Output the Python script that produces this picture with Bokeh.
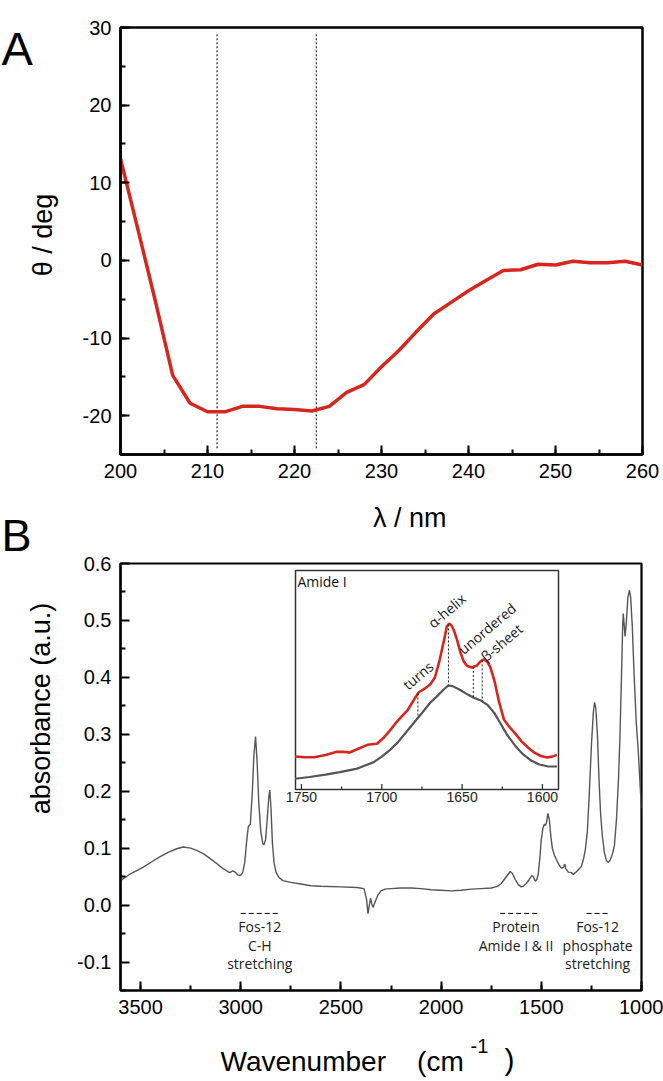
import numpy as np
from bokeh.plotting import figure
from bokeh.layouts import column, row
from bokeh.models import Range1d, SingleIntervalTicker, FixedTicker, PrintfTickFormatter
from bokeh.core.properties import value
from bokeh.embed import file_html
from bokeh.resources import INLINE

# ---------------- data: panel A (CD spectrum) ----------------
cd_wavelength = [200, 202, 204, 206, 208, 210, 212, 214, 216, 218, 220, 222, 224, 226, 228, 230,
                 232, 234, 236, 238, 240, 242, 244, 246, 248, 250, 252, 254, 256, 258, 260]
cd_theta = [13.1, 4.0, -5.2, -14.8, -18.4, -19.5, -19.5, -18.8, -18.8, -19.1, -19.2, -19.4, -18.8,
            -17.0, -16.0, -13.7, -11.6, -9.2, -6.9, -5.4, -3.9, -2.6, -1.3, -1.2, -0.5, -0.6,
            -0.1, -0.3, -0.3, -0.1, -0.6]
cd_marks = [211.1, 222.5]

# ---------------- data: panel B (FTIR spectrum) ----------------
ir_wavenumber = [3600, 3550, 3484, 3440, 3402, 3360, 3319, 3287, 3250, 3220, 3185, 3154, 3120, 3088,
                 3065, 3054, 3040, 3028, 3015, 3002, 2990, 2980, 2970, 2962, 2952, 2942, 2935, 2926,
                 2918, 2910, 2900, 2890, 2884, 2876, 2868, 2860, 2855, 2849, 2842, 2834, 2824, 2810,
                 2790, 2750, 2700, 2650, 2600, 2500, 2420, 2385, 2372, 2365, 2358, 2352, 2346, 2340,
                 2330, 2315, 2300, 2280, 2250, 2200, 2150, 2100, 2050, 2000, 1950, 1900, 1850, 1800,
                 1750, 1720, 1700, 1685, 1670, 1655, 1645, 1630, 1615, 1600, 1590, 1575, 1560, 1548,
                 1540, 1530, 1522, 1515, 1508, 1500, 1492, 1485, 1480, 1474, 1467, 1460, 1452, 1445,
                 1435, 1425, 1410, 1400, 1390, 1383, 1378, 1365, 1350, 1340, 1330, 1315, 1300, 1290,
                 1280, 1270, 1260, 1250, 1240, 1234, 1228, 1220, 1212, 1204, 1195, 1185, 1175, 1165,
                 1155, 1145, 1135, 1125, 1115, 1108, 1100, 1094, 1091, 1086, 1082, 1076, 1068, 1060,
                 1054, 1046, 1037, 1026, 1016, 1006, 1000]
ir_absorbance = [0.043, 0.055, 0.067, 0.077, 0.085, 0.093, 0.099, 0.102, 0.100, 0.096, 0.090, 0.082,
                 0.073, 0.064, 0.059, 0.057, 0.060, 0.058, 0.053, 0.052, 0.057, 0.075, 0.114, 0.138,
                 0.142, 0.200, 0.260, 0.296, 0.250, 0.180, 0.130, 0.108, 0.106, 0.115, 0.150, 0.190,
                 0.202, 0.170, 0.110, 0.075, 0.058, 0.049, 0.043, 0.040, 0.037, 0.034, 0.033, 0.032,
                 0.031, 0.029, 0.010, -0.015, 0.000, 0.012, 0.002, -0.004, 0.005, 0.018, 0.025, 0.028,
                 0.029, 0.030, 0.030, 0.029, 0.027, 0.026, 0.025, 0.026, 0.028, 0.029, 0.030, 0.033,
                 0.038, 0.045, 0.052, 0.059, 0.056, 0.045, 0.036, 0.032, 0.033, 0.038, 0.045, 0.052,
                 0.050, 0.042, 0.045, 0.055, 0.080, 0.115, 0.135, 0.142, 0.140, 0.145, 0.161, 0.150,
                 0.120, 0.100, 0.088, 0.080, 0.070, 0.065, 0.066, 0.072, 0.064, 0.058, 0.057, 0.054,
                 0.057, 0.062, 0.068, 0.080, 0.098, 0.130, 0.200, 0.280, 0.340, 0.356, 0.345, 0.300,
                 0.220, 0.160, 0.120, 0.092, 0.078, 0.075, 0.080, 0.090, 0.105, 0.150, 0.220, 0.290,
                 0.400, 0.490, 0.512, 0.490, 0.472, 0.495, 0.540, 0.553, 0.540, 0.490, 0.406, 0.320,
                 0.270, 0.205, 0.170]
ir_yticks = [-0.1, 0.0, 0.1, 0.2, 0.3, 0.4, 0.5, 0.6]
ir_yminor = [-0.15, -0.05, 0.05, 0.15, 0.25, 0.35, 0.45, 0.55]

# inset (Amide I region), normalised inset units
inset_red_wn = [1754, 1748, 1742, 1735, 1728, 1724, 1720, 1715, 1709, 1703, 1699, 1695, 1690, 1684,
                1680, 1677, 1673, 1670, 1667, 1664, 1661, 1659.5, 1658, 1656.5, 1655, 1653, 1651,
                1649, 1647, 1644, 1641, 1638.5, 1636.5, 1634.5, 1632.5, 1630, 1627, 1624, 1621,
                1617, 1613, 1609, 1605, 1601, 1597, 1594, 1591]
inset_red_val = [0.151, 0.147, 0.147, 0.158, 0.172, 0.172, 0.169, 0.185, 0.204, 0.209, 0.235, 0.269,
                 0.315, 0.361, 0.410, 0.444, 0.462, 0.478, 0.510, 0.590, 0.690, 0.745, 0.758, 0.748,
                 0.725, 0.680, 0.625, 0.585, 0.565, 0.557, 0.565, 0.585, 0.594, 0.585, 0.560, 0.500,
                 0.400, 0.320, 0.290, 0.256, 0.220, 0.192, 0.168, 0.153, 0.146, 0.150, 0.158]
inset_gray_wn = [1754, 1745, 1735, 1727, 1716, 1705, 1700, 1695, 1690, 1685, 1680, 1676, 1670, 1665,
                 1661, 1658.5, 1656, 1652, 1648, 1643, 1638, 1634, 1630, 1626, 1622, 1617, 1612,
                 1607, 1602, 1597, 1591]
inset_gray_val = [0.049, 0.057, 0.068, 0.078, 0.094, 0.125, 0.150, 0.180, 0.215, 0.260, 0.305, 0.340,
                  0.395, 0.430, 0.460, 0.475, 0.472, 0.458, 0.440, 0.420, 0.405, 0.385, 0.350, 0.300,
                  0.250, 0.200, 0.160, 0.132, 0.114, 0.106, 0.105]
inset_mark_wn = [1677.5, 1658.5, 1643.0, 1637.5]
inset_mark_names = ["turns", "α-helix", "unordered", "β-sheet"]
inset_ticks_major = [1750, 1700, 1650, 1600]
inset_ticks_minor = [1725, 1675, 1625]

band_labels = ["Fos-12\nC-H\nstretching", "Protein\nAmide I & II", "Fos-12\nphosphate\nstretching"]
band_start = [3000, 1705, 1274]
band_end = [2801, 1507, 1160]
band_center = [2905, 1626, 1219]

# ---------------- styling / layout ----------------
FONT = "Liberation Sans"
ANN_FONT = "Open Sans"
RED = "#D7261E"
GRAY = "#555555"
SIDE_W = 72          # width of the left label strips
MAIN_W = 591         # width of the plotting figures
TOTAL_W = SIDE_W + MAIN_W
NBSP = "\u00a0"


def style_axes(p, lw):
    p.xgrid.grid_line_color = None
    p.ygrid.grid_line_color = None
    p.outline_line_color = "black"
    p.outline_line_width = lw
    p.outline_line_alpha = 1.0
    p.background_fill_color = "white"
    p.border_fill_color = "white"
    for ax in (p.xaxis[0], p.yaxis[0]):
        ax.axis_line_width = lw
        ax.axis_line_color = "black"
        ax.major_tick_in = 9
        ax.major_tick_out = 0
        ax.minor_tick_in = 5
        ax.minor_tick_out = 0
        ax.major_tick_line_width = 2
        ax.minor_tick_line_width = 2
        ax.major_label_text_font = FONT
        ax.major_label_text_font_size = "20px"
        ax.major_label_text_color = "black"
        ax.major_label_standoff = 9


def strip(w, h):
    """Blank figure whose data units are pixels (y measured from the top)."""
    f = figure(width=w, height=h, x_range=Range1d(0, w), y_range=Range1d(h, 0),
               output_backend="svg", toolbar_location=None, min_border=0,
               x_axis_type=None, y_axis_type=None)
    f.outline_line_color = None
    f.background_fill_color = "white"
    f.border_fill_color = "white"
    return f


def put(f, x, y, txt, size, angle=0.0, align="center", font=FONT):
    f.text(x=[x], y=[y], text=[txt], angle=angle, text_align=align, text_baseline="middle",
           text_font=value(font), text_font_size=value(size), text_color="black")


# ---- Panel A ----
H1 = 494
pA = figure(width=MAIN_W, height=H1, x_range=Range1d(200, 260), y_range=Range1d(-25, 30),
            output_backend="svg", toolbar_location=None,
            min_border_left=48, min_border_right=21, min_border_top=27, min_border_bottom=40)
style_axes(pA, 2.5)
pA.xaxis[0].ticker = SingleIntervalTicker(interval=10, num_minor_ticks=2)
pA.yaxis[0].ticker = SingleIntervalTicker(interval=10, num_minor_ticks=2)
pA.yaxis[0].formatter = PrintfTickFormatter(format="%d")

pA.segment(x0=cd_marks, y0=[-24.2] * len(cd_marks), x1=cd_marks, y1=[29.4] * len(cd_marks),
           line_color="black", line_width=1, line_dash="2 2")
pA.line(cd_wavelength, cd_theta, line_color=RED, line_width=3.5)

fA = strip(SIDE_W, H1)
put(fA, 1, 24, "A", "47px", align="left")
put(fA, 42, 240, "θ / deg", "27px", angle=np.pi / 2)

# ---- Panel B ----
H_mid = 59
H2 = 477
fMid = strip(MAIN_W, H_mid)
put(fMid, 400 - SIDE_W, 23, "λ / nm", "27px")

pB = figure(width=MAIN_W, height=H2, x_range=Range1d(3600, 1000), y_range=Range1d(-0.15, 0.6),
            output_backend="svg", toolbar_location=None,
            min_border_left=48, min_border_right=22, min_border_top=10, min_border_bottom=40)
style_axes(pB, 2.2)
pB.xaxis[0].ticker = SingleIntervalTicker(interval=500, num_minor_ticks=2)
pB.yaxis[0].ticker = FixedTicker(ticks=ir_yticks, minor_ticks=ir_yminor)
pB.yaxis[0].formatter = PrintfTickFormatter(format="%.1f")

# inset ranges: inset box occupies a sub-rectangle of the frame (page pixels)
FRAME = dict(left=120, right=641, top=563, bottom=990)
IBOX = dict(left=295, right=558, top=570, bottom=789)
IX0, IX1 = 1753.7, 1590.0
sx = (IX1 - IX0) / (IBOX["right"] - IBOX["left"])
sy = 1.0 / (IBOX["bottom"] - IBOX["top"])
pB.extra_x_ranges = {"ix": Range1d(IX0 + (FRAME["left"] - IBOX["left"]) * sx,
                                   IX0 + (FRAME["right"] - IBOX["left"]) * sx)}
pB.extra_y_ranges = {"iy": Range1d((IBOX["bottom"] - FRAME["bottom"]) * sy,
                                   (IBOX["bottom"] - FRAME["top"]) * sy)}

pB.line(ir_wavenumber, ir_absorbance, line_color=GRAY, line_width=1.4)

# band annotations
BAND_Y = -0.0146
pB.segment(x0=band_start, y0=[BAND_Y] * 3, x1=band_end, y1=[BAND_Y] * 3,
           line_color="black", line_width=1, line_dash="5 3")
pB.text(x=band_center, y=[-0.021] * 3, text=band_labels, text_align="center", text_baseline="top",
        text_font=value(ANN_FONT), text_font_size=value("14px"), text_color="#1a1a1a",
        text_line_height=0.98)

# inset
ik = dict(x_range_name="ix", y_range_name="iy")
pB.quad(left=[IX0], right=[IX1], bottom=[0], top=[1], fill_color="white", line_color="#333333",
        line_width=1.5, **ik)
pB.line(inset_gray_wn, inset_gray_val, line_color=GRAY, line_width=2.2, **ik)
pB.line(inset_red_wn, inset_red_val, line_color=RED, line_width=2.6, **ik)

mark_top = np.interp(inset_mark_wn, inset_red_wn[::-1], inset_red_val[::-1])
mark_bot = np.interp(inset_mark_wn, inset_gray_wn[::-1], inset_gray_val[::-1])
pB.segment(x0=inset_mark_wn, y0=mark_top, x1=inset_mark_wn, y1=mark_bot,
           line_color="#222222", line_width=1, line_dash="2 2", **ik)

pB.segment(x0=inset_ticks_major, y0=[0] * 4, x1=inset_ticks_major, y1=[0.025] * 4,
           line_color="#333333", line_width=1.3, **ik)
pB.segment(x0=inset_ticks_minor, y0=[0] * 3, x1=inset_ticks_minor, y1=[0.014] * 3,
           line_color="#333333", line_width=1.3, **ik)
pB.text(x=inset_ticks_major, y=[-0.012] * 4, text=[str(t) for t in inset_ticks_major],
        text_align="center", text_baseline="top", text_font=value(FONT),
        text_font_size=value("14px"), text_color="#222222", **ik)
pB.text(x=[1752.5], y=[0.95], text=["Amide I"], text_align="left", text_baseline="middle",
        text_font=value(ANN_FONT), text_font_size=value("14px"), text_color="#111111", **ik)

name_x = [1677.5, 1659.5, 1634.5, 1625.5]
name_y = [0.521, 0.817, 0.735, 0.671]
pB.text(x=name_x, y=name_y, text=inset_mark_names, angle=0.70, text_align="center",
        text_baseline="middle", text_font=value(ANN_FONT), text_font_size=value("14px"),
        text_color="#1a1a1a", **ik)

fB = strip(SIDE_W, H_mid + H2)
put(fB, 1, 41, "B", "45px", align="left")
put(fB, 40, 708 - H1, "absorbance (a.u.)", "27px", angle=np.pi / 2)

H_bot = 51
fW = strip(TOTAL_W, H_bot)
put(fW, 220, 31, "Wavenumber" + NBSP * 4 + "(cm", "28px", align="left")
put(fW, 479, 15, "-1", "20px")
put(fW, 509, 29, ")", "30px")

layout = column(row(fA, pA, spacing=0),
                row(fB, column(fMid, pB, spacing=0), spacing=0),
                fW, spacing=0)
open("out.html", "w").write(file_html(layout, INLINE))
